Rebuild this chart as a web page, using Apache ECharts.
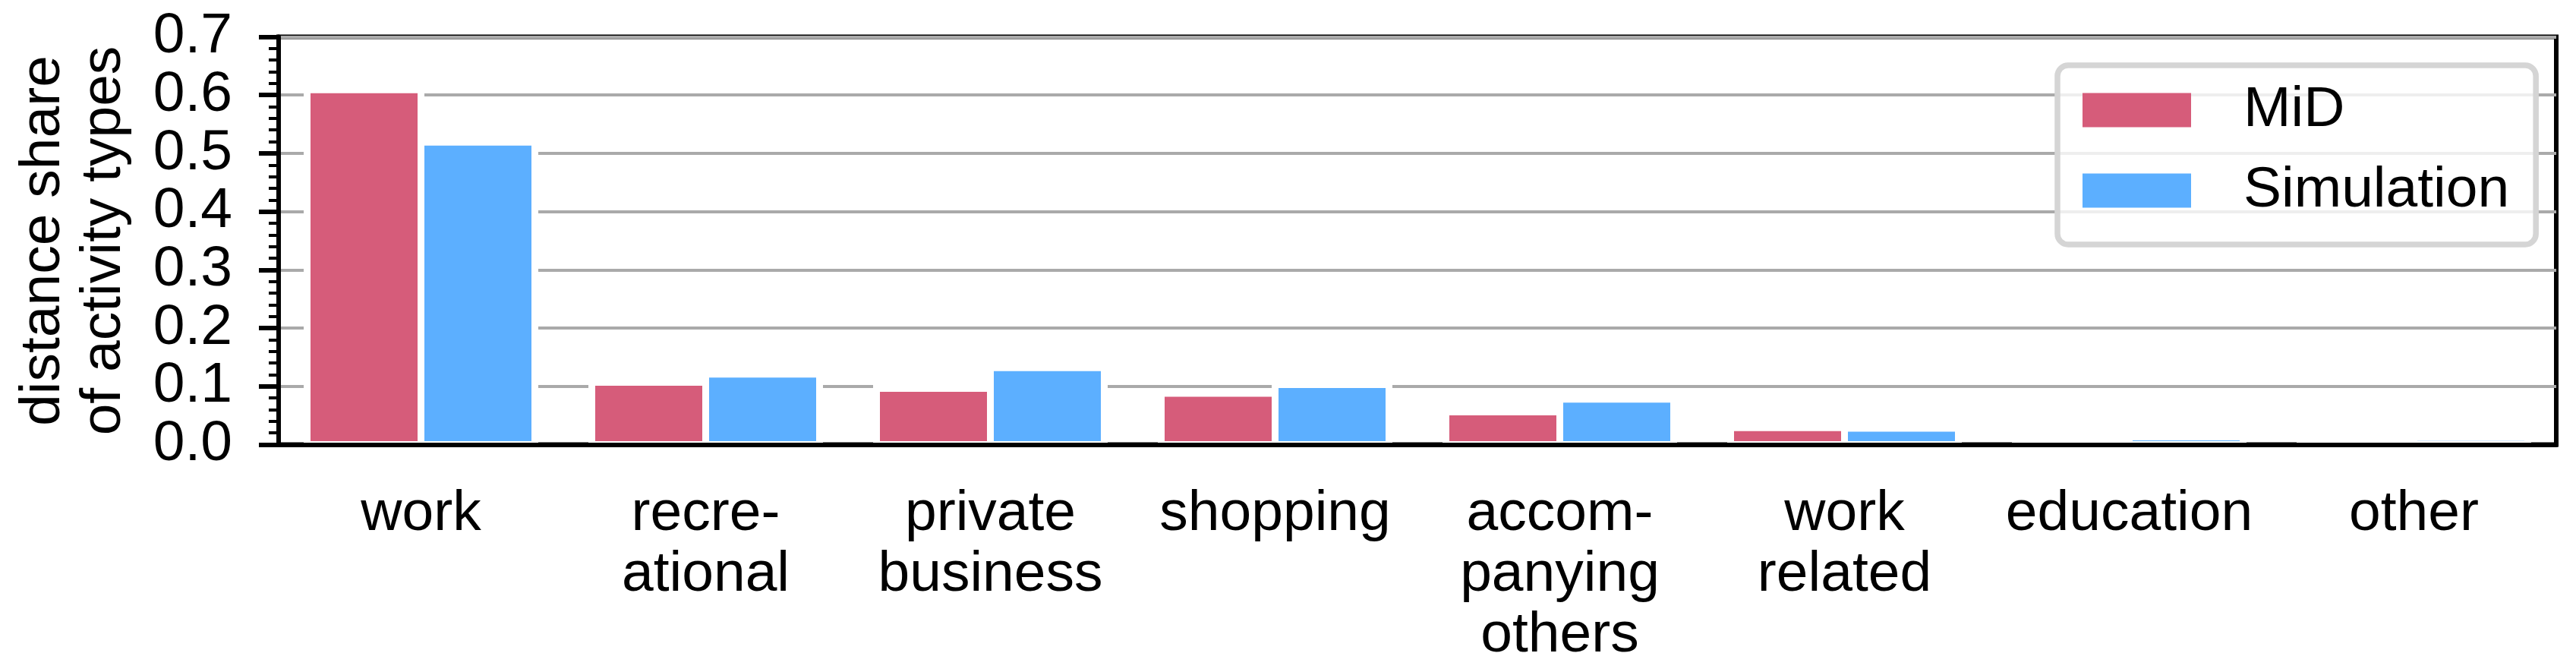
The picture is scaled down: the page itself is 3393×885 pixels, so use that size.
<!DOCTYPE html>
<html>
<head>
<meta charset="utf-8">
<script src="https://cdn.jsdelivr.net/npm/echarts@6/dist/echarts.min.js"></script>
<style>
    html, body { margin: 0; padding: 0; background: #fff; }
    #chart { width: 3393px; height: 885px; }
</style>
</head>
<body>
<div id="chart"></div>
<script>
// activity types along the x axis
const categories = ['work', 'recre-\national', 'private\nbusiness', 'shopping',
    'accom-\npanying\nothers', 'work\nrelated', 'education', 'other'];
const mid = [0.609, 0.107, 0.0965, 0.088, 0.056, 0.029, 0.004, 0.004];
const simulation = [0.519, 0.121, 0.132, 0.103, 0.078, 0.028, 0.013, 0.012];
const yTicks = [0, 0.1, 0.2, 0.3, 0.4, 0.5, 0.6, 0.7];

const font = 'Liberation Sans, Arial, sans-serif';

// bars as in matplotlib: white edge centred on the bar outline
function barRenderer(offset) {
    return function (params, api) {
        let idx = api.value(0);
        let base = api.coord([idx, 0]);
        let top = api.coord([idx, api.value(1)]);
        let w = api.size([1, 0])[0] * 0.4;
        return {
            type: 'rect',
            shape: {x: base[0] + offset * w, y: top[1], width: w, height: base[1] - top[1]},
            style: {fill: api.visual('color'), stroke: '#fff', lineWidth: 9}
        };
    };
}

function drawChart() {
    let myChart = echarts.init(document.getElementById('chart'), null, {renderer: 'canvas'});
    let option = {
        animation: false,
        textStyle: {fontFamily: font, color: '#000'},
        grid: {
            left: 367, right: 26, top: 48.5, bottom: 299.5,
            show: true, borderColor: '#000', borderWidth: 6, backgroundColor: 'transparent'
        },
        legend: {
            orient: 'vertical',
            left: 2710, top: 86,
            padding: [21.5, 35, 33.5, 33],
            itemWidth: 143, itemHeight: 45, itemGap: 31,
            icon: 'rect',
            itemStyle: {borderWidth: 0},
            backgroundColor: 'rgba(255,255,255,0.8)',
            borderColor: '#d5d5d5', borderWidth: 7.5, borderRadius: 14,
            textStyle: {fontFamily: font, fontSize: 75, lineHeight: 75, color: '#000', padding: [0, 0, 0, 64]},
            data: ['MiD', 'Simulation']
        },
        xAxis: {
            type: 'category',
            data: categories,
            z: 5,
            axisLine: {lineStyle: {color: '#000', width: 6}},
            axisTick: {alignWithLabel: true, length: 28, lineStyle: {color: '#000', width: 6}},
            axisLabel: {interval: 0, margin: 52, fontSize: 75, lineHeight: 80, color: '#000', fontFamily: font}
        },
        yAxis: {
            type: 'value',
            min: yTicks[0], max: yTicks[yTicks.length - 1], interval: 0.1,
            name: 'distance share\nof activity types',
            nameLocation: 'middle', nameGap: 190,
            nameTextStyle: {fontSize: 75, lineHeight: 80, color: '#000', fontFamily: font},
            axisLine: {show: true, lineStyle: {color: '#000', width: 6}},
            axisTick: {show: true, length: 26, lineStyle: {color: '#000', width: 6}},
            minorTick: {show: true, splitNumber: 5, length: 13, lineStyle: {color: '#000', width: 4}},
            axisLabel: {margin: 61, fontSize: 75, color: '#000', fontFamily: font,
                formatter: v => v.toFixed(1)},
            splitLine: {show: true, lineStyle: {color: '#aaaaaa', width: 4}}
        },
        series: [
            {
                name: 'MiD', type: 'custom',
                data: mid.map((v, i) => [i, v]),
                encode: {x: 0, y: 1},
                renderItem: barRenderer(-1),
                itemStyle: {color: '#d65c7a'}
            },
            {
                name: 'Simulation', type: 'custom',
                data: simulation.map((v, i) => [i, v]),
                encode: {x: 0, y: 1},
                renderItem: barRenderer(0),
                itemStyle: {color: '#5cafff'}
            }
        ]
    };
    option && myChart.setOption(option);
}

drawChart();
</script>
</body>
</html>
